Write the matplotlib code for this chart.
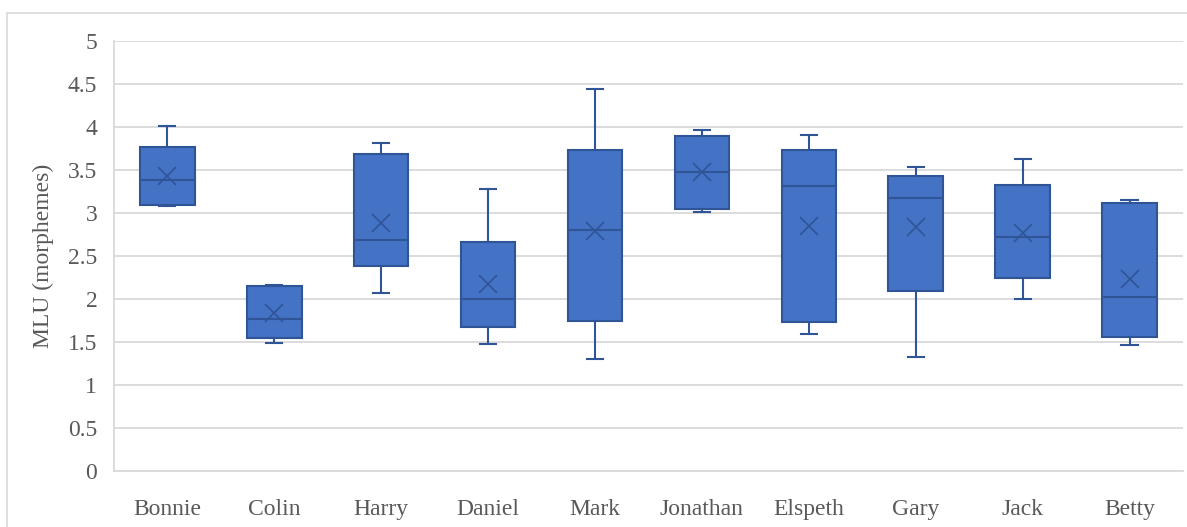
import matplotlib
matplotlib.use("Agg")
import matplotlib.pyplot as plt
from matplotlib.patches import Rectangle

# MLU per child: whiskers, quartiles, median and mean
children = ["Bonnie", "Colin", "Harry", "Daniel", "Mark",
            "Jonathan", "Elspeth", "Gary", "Jack", "Betty"]
whisker_lo = [3.08, 1.49, 2.07, 1.48, 1.30, 3.01, 1.59, 1.33, 2.00, 1.47]
q1 = [3.10, 1.55, 2.38, 1.67, 1.75, 3.05, 1.73, 2.09, 2.24, 1.56]
median = [3.39, 1.77, 2.69, 2.00, 2.80, 3.48, 3.32, 3.18, 2.72, 2.02]
q3 = [3.77, 2.15, 3.69, 2.66, 3.74, 3.90, 3.73, 3.43, 3.33, 3.12]
whisker_hi = [4.01, 2.16, 3.82, 3.28, 4.45, 3.97, 3.91, 3.54, 3.63, 3.15]
mean = [3.43, 1.84, 2.89, 2.18, 2.79, 3.48, 2.85, 2.84, 2.77, 2.23]

fill = "#4472C4"
edge = "#2F5597"

plt.rcParams["font.family"] = ["Liberation Serif", "DejaVu Serif"]

fig = plt.figure(figsize=(11.87, 5.27), dpi=100)
ax = fig.add_axes([0.096, 0.1063, 0.9006, 0.8153])

stats = []
for i, name in enumerate(children):
    stats.append({
        "label": name,
        "whislo": whisker_lo[i], "q1": q1[i], "med": median[i],
        "q3": q3[i], "whishi": whisker_hi[i], "mean": mean[i],
        "fliers": [],
    })

ax.bxp(stats, positions=range(1, len(children) + 1), widths=0.51,
       patch_artist=True, showmeans=True, showfliers=False,
       boxprops=dict(facecolor=fill, edgecolor=edge, linewidth=1.5),
       medianprops=dict(color=edge, linewidth=1.5),
       whiskerprops=dict(color=edge, linewidth=1.5),
       capprops=dict(color=edge, linewidth=1.5),
       capwidths=0.15,
       meanprops=dict(marker="x", markersize=13, markeredgecolor=edge,
                      markeredgewidth=1.2))

ax.set_xlim(0.5, len(children) + 0.5)
ax.set_ylim(0, 5)
ax.set_yticks([i * 0.5 for i in range(11)])
ax.set_yticklabels(["0", "0.5", "1", "1.5", "2", "2.5", "3",
                    "3.5", "4", "4.5", "5"])
ax.set_xticks(range(1, len(children) + 1))
ax.set_xticklabels(children)

ax.grid(axis="y", color="#d9d9d9", linewidth=1.3)
ax.set_axisbelow(True)
for side in ["top", "right"]:
    ax.spines[side].set_visible(False)
for side in ["left", "bottom"]:
    ax.spines[side].set_color("#d9d9d9")
    ax.spines[side].set_linewidth(1.3)
ax.tick_params(length=0, labelsize=17, colors="#595959")
ax.tick_params(axis="y", pad=12)
ax.tick_params(axis="x", pad=20)
ax.set_ylabel("MLU (morphemes)", fontsize=17, color="#595959", labelpad=10)

# outer chart frame
fig.patches.append(Rectangle((7 / 1187, -0.1), 1.2, 1 - 13 / 527 + 0.1,
                             transform=fig.transFigure, fill=False,
                             edgecolor="#d9d9d9", linewidth=1.2))

fig.savefig("out.png", dpi=100)
